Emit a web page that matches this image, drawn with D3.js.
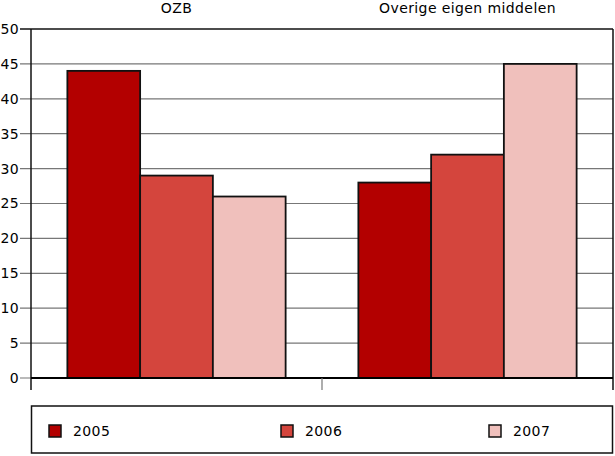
<!DOCTYPE html>
<html>
<head>
<meta charset="utf-8">
<script src="https://cdn.jsdelivr.net/npm/d3@7"></script>
<style>
body { margin: 0; background: #fff; }
text { font-family: "DejaVu Sans", sans-serif; letter-spacing: 0.4px; }
</style>
</head>
<body>
<script>
// data
var categories = ["OZB", "Overige eigen middelen"];
var years = ["2005", "2006", "2007"];
var values = [
    [44, 29, 26],
    [28, 32, 45]
];
var yTicks = [0, 5, 10, 15, 20, 25, 30, 35, 40, 45, 50];
var colors = ["#b30000", "#d4453d", "#f0c0bc"];

var width = 615, height = 456;
var padding = { top: 29, right: 2, bottom: 78, left: 31 };

var svg = d3.select("body").append("svg")
    .attr("width", width)
    .attr("height", height);

var plotW = width - padding.left - padding.right;
var plotH = height - padding.top - padding.bottom;

// x 比例尺
var x0 = d3.scaleBand()
    .domain(categories)
    .range([padding.left, padding.left + plotW])
    .paddingInner(0)
    .paddingOuter(0);

var x1 = d3.scaleBand()
    .domain(years)
    .range([0, x0.bandwidth() * 0.75]);

// y 比例尺
var yScale = d3.scaleLinear()
    .domain([0, 50])
    .range([padding.top + plotH, padding.top]);

// 网格线
svg.append("g")
    .selectAll("line")
    .data(yTicks)
    .enter()
    .append("line")
    .attr("x1", padding.left - 11)
    .attr("x2", padding.left + plotW)
    .attr("y1", d => yScale(d))
    .attr("y2", d => yScale(d))
    .attr("stroke", d => d === 50 ? "#111" : "#777")
    .attr("stroke-width", d => d === 50 ? 1.5 : 1.2);

// y 轴标签
var yAxis = d3.axisLeft(yScale)
    .tickValues(yTicks)
    .tickSize(0)
    .tickPadding(12);

var gy = svg.append("g")
    .attr("transform", "translate(" + padding.left + ",0)")
    .call(yAxis);
gy.select(".domain").remove();
gy.selectAll("text")
    .attr("font-size", 14)
    .attr("fill", "#000")
    .attr("font-family", "DejaVu Sans, sans-serif");

// 柱子
var groups = svg.append("g")
    .selectAll("g")
    .data(values)
    .enter()
    .append("g")
    .attr("transform", (d, i) => "translate(" + (x0(categories[i]) + x0.bandwidth() * 0.125) + ",0)");

groups.selectAll("rect")
    .data(d => d)
    .enter()
    .append("rect")
    .attr("x", (d, i) => x1(years[i]))
    .attr("y", d => yScale(d))
    .attr("width", x1.bandwidth())
    .attr("height", d => yScale(0) - yScale(d))
    .attr("fill", (d, i) => colors[i])
    .attr("stroke", "#111")
    .attr("stroke-width", 1.8);

// 坐标轴线
svg.append("line")
    .attr("x1", padding.left).attr("x2", padding.left)
    .attr("y1", padding.top).attr("y2", yScale(0) + 12)
    .attr("stroke", "#111").attr("stroke-width", 1.5);
svg.append("line")
    .attr("x1", padding.left + plotW).attr("x2", padding.left + plotW)
    .attr("y1", padding.top).attr("y2", yScale(0) + 12)
    .attr("stroke", "#111").attr("stroke-width", 1.5);
svg.append("line")
    .attr("x1", padding.left).attr("x2", padding.left + plotW)
    .attr("y1", yScale(0)).attr("y2", yScale(0))
    .attr("stroke", "#000").attr("stroke-width", 2);
svg.append("line")
    .attr("x1", x0(categories[1])).attr("x2", x0(categories[1]))
    .attr("y1", yScale(0)).attr("y2", yScale(0) + 12)
    .attr("stroke", "#777").attr("stroke-width", 1.2);

// 分类标签（顶部）
svg.append("g")
    .selectAll("text")
    .data(categories)
    .enter()
    .append("text")
    .attr("x", d => x0(d) + x0.bandwidth() / 2)
    .attr("y", 13)
    .attr("text-anchor", "middle")
    .attr("font-size", 14)
    .text(d => d);

// 图例
var legendY = 406;
svg.append("rect")
    .attr("x", padding.left + 0.5)
    .attr("y", legendY)
    .attr("width", plotW - 1)
    .attr("height", 47)
    .attr("fill", "#fff")
    .attr("stroke", "#111")
    .attr("stroke-width", 1.5);

var legendX = [49, 281, 489];
var legend = svg.append("g")
    .selectAll("g")
    .data(years)
    .enter()
    .append("g")
    .attr("transform", (d, i) => "translate(" + legendX[i] + "," + (legendY + 19) + ")");

legend.append("rect")
    .attr("width", 12)
    .attr("height", 12)
    .attr("fill", (d, i) => colors[i])
    .attr("stroke", "#111")
    .attr("stroke-width", 1.5);

legend.append("text")
    .attr("x", 24)
    .attr("y", 11)
    .attr("font-size", 14)
    .text(d => d);
</script>
</body>
</html>
